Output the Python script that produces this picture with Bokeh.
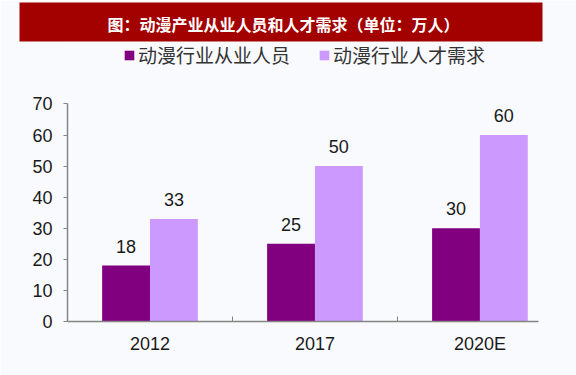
from bokeh.plotting import figure
from bokeh.models import (Range1d, FixedTicker, ColumnDataSource, LabelSet, Legend,
                          LegendItem, Title)
from bokeh.transform import dodge
from bokeh.core.properties import value
from bokeh.embed import file_html
from bokeh.resources import INLINE

# ---- data ----
categories = ["2012", "2017", "2020E"]
employees = [18, 25, 30]          # 动漫行业从业人员
demand = [33, 50, 60]             # 动漫行业人才需求
series_names = ["动漫行业从业人员", "动漫行业人才需求"]
title_text = "图：动漫产业从业人员和人才需求（单位：万人）"
y_ticks = [0, 10, 20, 30, 40, 50, 60, 70]

BG = "#f9fafd"
DARK = "#800080"
LIGHT = "#cc99ff"
NUM_FONT = "Liberation Sans"
CJK_FONT = "Noto Sans CJK SC"

pos = [i + 0.5 for i in range(len(categories))]
src = ColumnDataSource(dict(x=pos, cat=categories, emp=employees, dem=demand,
                            emp_s=[str(v) for v in employees],
                            dem_s=[str(v) for v in demand]))

p = figure(width=576, height=375, output_backend="svg", toolbar_location=None,
           x_range=Range1d(0, 2.855), y_range=Range1d(0, 90.1),
           min_border_left=67, min_border_right=38, min_border_top=40,
           min_border_bottom=54, title=None)
p.background_fill_color = BG
p.border_fill_color = BG
p.outline_line_color = None
p.grid.visible = False

bw = 0.29
r1 = p.vbar(x=dodge("x", -bw / 2, range=p.x_range), top="emp", width=bw, source=src,
            fill_color=DARK, line_color=None)
r2 = p.vbar(x=dodge("x", bw / 2, range=p.x_range), top="dem", width=bw, source=src,
            fill_color=LIGHT, line_color=None)

for col, lab, off in [("emp", "emp_s", -bw / 2), ("dem", "dem_s", bw / 2)]:
    ls = LabelSet(x=dodge("x", off, range=p.x_range), y=col, text=lab, source=src,
                  text_align="center", text_baseline="alphabetic", y_offset=13,
                  text_font=value(NUM_FONT), text_font_size="18px", text_color="#1a1a1a")
    p.add_layout(ls)

AX = "#858585"
xa = p.xaxis[0]
xa.ticker = FixedTicker(ticks=pos, minor_ticks=[1, 2])
xa.major_label_overrides = {v: c for v, c in zip(pos, categories)}
xa.major_tick_in = 0
xa.major_tick_out = 0
xa.minor_tick_in = 5
xa.minor_tick_out = 0
xa.minor_tick_line_color = AX
xa.axis_line_color = AX
xa.axis_line_width = 1.5
xa.major_label_text_font = NUM_FONT
xa.major_label_text_font_size = "18px"
xa.major_label_text_color = "#1a1a1a"
xa.major_label_standoff = 12

ya = p.yaxis[0]
ya.ticker = FixedTicker(ticks=y_ticks)
ya.bounds = (0, 70)
ya.major_tick_in = 0
ya.major_tick_out = 4
ya.minor_tick_line_color = None
ya.major_tick_line_color = AX
ya.axis_line_color = AX
ya.axis_line_width = 1.5
ya.major_label_text_font = NUM_FONT
ya.major_label_text_font_size = "18px"
ya.major_label_text_color = "#1a1a1a"
ya.major_label_standoff = 11

legend = Legend(items=[LegendItem(label=series_names[0], renderers=[r1]),
                       LegendItem(label=series_names[1], renderers=[r2])],
                orientation="horizontal", location=(56, 253),
                glyph_width=12, glyph_height=12, label_standoff=3, spacing=28,
                padding=0, margin=0, border_line_color=None,
                background_fill_alpha=0, label_text_font=CJK_FONT,
                label_text_font_size="19px", label_text_color="#333333",
                label_height=20)
p.add_layout(legend)

t = Title(text=title_text, align="left", offset=-48, vertical_align="bottom",
          text_color="white", text_font=CJK_FONT, text_font_size="16px",
          text_font_style="bold", background_fill_color="#a30000",
          padding=(88, 83, 9, 6), standoff=0)
p.add_layout(t, "above")

open("out.html", "w").write(file_html(p, INLINE))
